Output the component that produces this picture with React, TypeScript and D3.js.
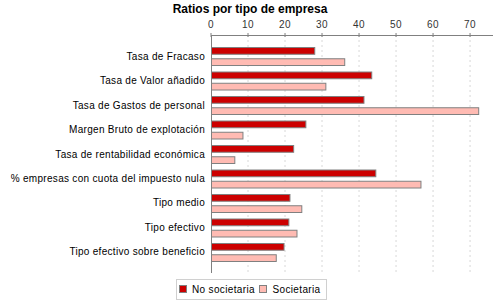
import React from "react";
import * as d3 from "d3";

const categories = [
  "Tasa de Fracaso",
  "Tasa de Valor añadido",
  "Tasa de Gastos de personal",
  "Margen Bruto de explotación",
  "Tasa de rentabilidad económica",
  "% empresas con cuota del impuesto nula",
  "Tipo medio",
  "Tipo efectivo",
  "Tipo efectivo sobre beneficio",
];
const seriesNames = ["No societaria", "Societaria"];
const noSocietaria = [27.9, 43.3, 41.2, 25.5, 22.2, 44.4, 21.2, 20.9, 19.6];
const societaria = [36.0, 30.9, 72.2, 8.5, 6.3, 56.6, 24.4, 23.1, 17.5];
const ticks = [0, 10, 20, 30, 40, 50, 60, 70];
const colors = ["#CC0000", "#FFBBB3"];

const W = 500;
const H = 300;
const left = 211;
const right = 493;
const top = 35;
const bottom = 273;
const font = "'Liberation Sans', Arial, sans-serif";

export default function App() {
  const x = d3.scaleLinear().domain([0, 76.2]).range([left, right]);
  const y = d3
    .scaleBand<string>()
    .domain(categories)
    .range([top, bottom])
    .paddingInner(0.265)
    .paddingOuter(0.49);
  const inner = d3
    .scaleBand<string>()
    .domain(seriesNames)
    .range([0, y.bandwidth()])
    .paddingInner(0.4);
  const series = [noSocietaria, societaria];

  return (
    <svg
      width={W}
      height={H}
      style={{ position: "absolute", left: 0, top: 0, background: "#fff" }}
      fontFamily={font}
    >
      <rect x={0} y={0} width={W} height={H} fill="#fff" />
      <text
        x={250}
        y={13}
        textAnchor="middle"
        fontSize={12}
        fontWeight="bold"
        fill="#000"
      >
        Ratios por tipo de empresa
      </text>
      {ticks.map((t) => (
        <g key={t}>
          {t !== 0 && (
            <line
              x1={x(t)}
              x2={x(t)}
              y1={top}
              y2={bottom}
              stroke="#d8d8d8"
              strokeWidth={1}
              strokeDasharray="2,3"
            />
          )}
          <line x1={x(t)} x2={x(t)} y1={top - 2} y2={top + 2} stroke="#808080" />
          <text
            x={x(t)}
            y={28}
            textAnchor="middle"
            fontSize={10}
            letterSpacing={0.4}
            fill="#333"
          >
            {t}
          </text>
        </g>
      ))}
      <line x1={left} x2={right} y1={top + 0.5} y2={top + 0.5} stroke="#808080" />
      <line x1={left + 0.5} x2={left + 0.5} y1={top} y2={bottom} stroke="#808080" />
      {categories.map((c, i) => (
        <g key={c}>
          <text
            x={205}
            y={(y(c) as number) + y.bandwidth() / 2 + 3.5}
            textAnchor="end"
            fontSize={10}
            letterSpacing={0.3}
            fill="#000"
          >
            {c}
          </text>
          {series.map((s, k) => (
            <rect
              key={k}
              x={x(0) + 0.5}
              y={(y(c) as number) + (inner(seriesNames[k]) as number) + 0.5}
              width={x(s[i]) - x(0)}
              height={inner.bandwidth()}
              fill={colors[k]}
              stroke="#808080"
              strokeWidth={1}
            />
          ))}
        </g>
      ))}
      <rect x={176.5} y={279.5} width={150} height={20} fill="#fff" stroke="#d0d0d0" />
      {seriesNames.map((n, k) => {
        const sx = k === 0 ? 179.5 : 259.5;
        const tx = k === 0 ? 192 : 272.5;
        return (
          <g key={n}>
            <rect x={sx} y={285.5} width={7} height={7} fill={colors[k]} stroke="#808080" />
            <text x={tx} y={293} fontSize={10} letterSpacing={0.35} fill="#000">
              {n}
            </text>
          </g>
        );
      })}
    </svg>
  );
}
